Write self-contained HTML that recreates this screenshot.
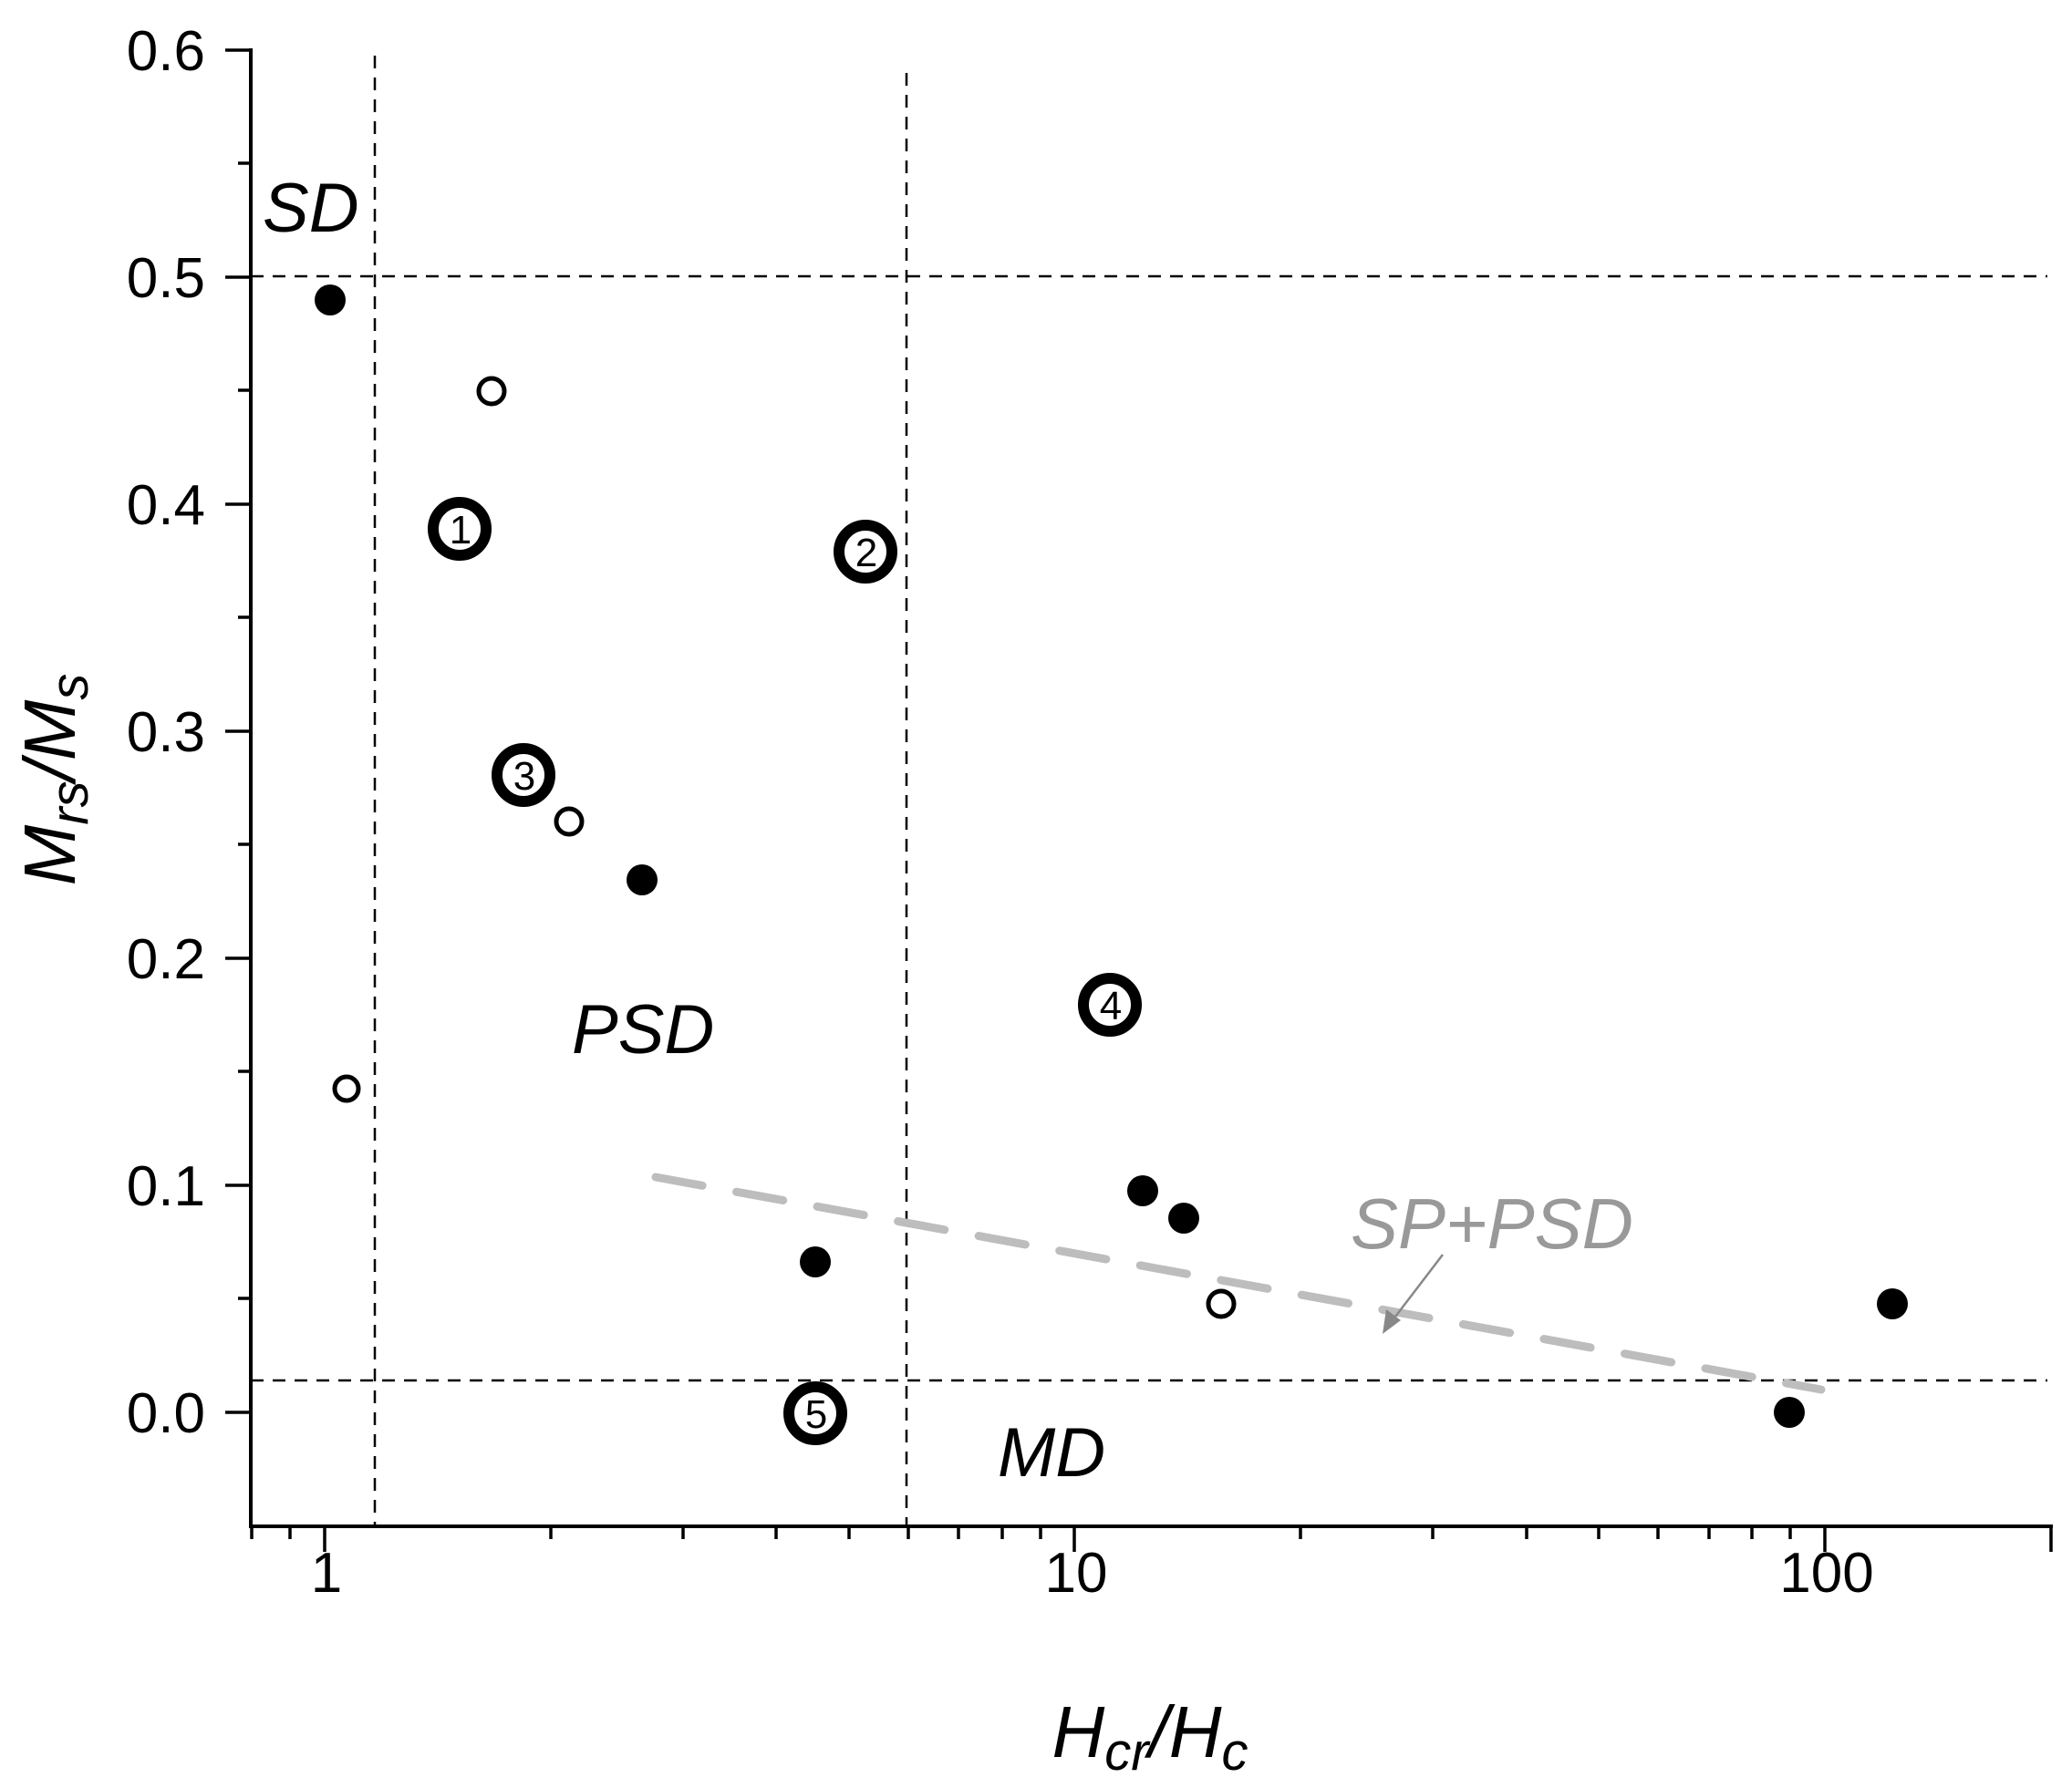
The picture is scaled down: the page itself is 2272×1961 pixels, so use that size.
<!DOCTYPE html>
<html><head><meta charset="utf-8"><style>html,body{margin:0;padding:0;background:#fff}</style></head>
<body>
<svg width="2272" height="1956" viewBox="0 0 2272 1956" xmlns="http://www.w3.org/2000/svg" font-family="Liberation Sans, Arial, sans-serif">
<rect width="2272" height="1956" fill="#fff"/>
<g stroke="#000" stroke-width="2.5" stroke-dasharray="14,10" fill="none">
<line x1="411" y1="61" x2="411" y2="1674"/>
<line x1="994" y1="80" x2="994" y2="1674"/>
<line x1="275" y1="303" x2="2245" y2="303"/>
<line x1="275" y1="1514" x2="2245" y2="1514"/>
</g>
<line x1="719" y1="1291" x2="1997" y2="1524" stroke="#bdbdbd" stroke-width="9" stroke-dasharray="52,38" stroke-linecap="round"/>
<g stroke="#000" stroke-width="4" fill="none">
<line x1="275" y1="53" x2="275" y2="1676"/>
<line x1="273" y1="1674" x2="2251" y2="1674"/>
</g>
<g stroke="#000" stroke-width="3.5">
<line x1="247" y1="55" x2="275" y2="55"/>
<line x1="247" y1="304" x2="275" y2="304"/>
<line x1="247" y1="553" x2="275" y2="553"/>
<line x1="247" y1="802" x2="275" y2="802"/>
<line x1="247" y1="1051" x2="275" y2="1051"/>
<line x1="247" y1="1300" x2="275" y2="1300"/>
<line x1="247" y1="1549" x2="275" y2="1549"/>
<line x1="261" y1="179" x2="275" y2="179"/>
<line x1="261" y1="428" x2="275" y2="428"/>
<line x1="261" y1="677" x2="275" y2="677"/>
<line x1="261" y1="926" x2="275" y2="926"/>
<line x1="261" y1="1175" x2="275" y2="1175"/>
<line x1="261" y1="1424" x2="275" y2="1424"/>
<line x1="356" y1="1674" x2="356" y2="1702"/>
<line x1="1178" y1="1674" x2="1178" y2="1702"/>
<line x1="2001" y1="1674" x2="2001" y2="1702"/>
<line x1="2249" y1="1674" x2="2249" y2="1702"/>
<line x1="276" y1="1674" x2="276" y2="1688"/>
<line x1="318" y1="1674" x2="318" y2="1688"/>
<line x1="604" y1="1674" x2="604" y2="1688"/>
<line x1="749" y1="1674" x2="749" y2="1688"/>
<line x1="851" y1="1674" x2="851" y2="1688"/>
<line x1="931" y1="1674" x2="931" y2="1688"/>
<line x1="996" y1="1674" x2="996" y2="1688"/>
<line x1="1051" y1="1674" x2="1051" y2="1688"/>
<line x1="1099" y1="1674" x2="1099" y2="1688"/>
<line x1="1141" y1="1674" x2="1141" y2="1688"/>
<line x1="1426" y1="1674" x2="1426" y2="1688"/>
<line x1="1571" y1="1674" x2="1571" y2="1688"/>
<line x1="1674" y1="1674" x2="1674" y2="1688"/>
<line x1="1753" y1="1674" x2="1753" y2="1688"/>
<line x1="1818" y1="1674" x2="1818" y2="1688"/>
<line x1="1874" y1="1674" x2="1874" y2="1688"/>
<line x1="1921" y1="1674" x2="1921" y2="1688"/>
<line x1="1963" y1="1674" x2="1963" y2="1688"/>
</g>
<g font-size="62" fill="#000" text-anchor="end">
<text x="225" y="77">0.6</text>
<text x="225" y="326">0.5</text>
<text x="225" y="575">0.4</text>
<text x="225" y="824">0.3</text>
<text x="225" y="1073">0.2</text>
<text x="225" y="1322">0.1</text>
<text x="225" y="1571">0.0</text>
</g>
<g font-size="62" fill="#000" text-anchor="middle">
<text x="358" y="1746">1</text>
<text x="1180" y="1746">10</text>
<text x="2003" y="1746">100</text>
</g>
<text x="1261" y="1927" font-size="80" font-style="italic" text-anchor="middle">H<tspan font-size="58" dy="14">cr</tspan><tspan dy="-14">/H</tspan><tspan font-size="58" dy="14">c</tspan></text>
<text transform="translate(82,855) rotate(-90)" font-size="80" font-style="italic" text-anchor="middle">M<tspan font-size="58" dy="14">rs</tspan><tspan dy="-14">/M</tspan><tspan font-size="58" dy="14">s</tspan></text>
<g font-size="76" font-style="italic" fill="#000">
<text x="288" y="254">SD</text>
<text x="627" y="1155">PSD</text>
<text x="1094" y="1619">MD</text>
</g>
<text x="1481" y="1369" font-size="78" font-style="italic" fill="#999">SP+PSD</text>
<line x1="1582" y1="1376" x2="1527" y2="1448" stroke="#888" stroke-width="2.5"/>
<polygon points="1516,1463 1520,1436 1536,1448" fill="#888"/>
<g fill="#000">
<circle cx="362" cy="329" r="17"/>
<circle cx="704" cy="965" r="17"/>
<circle cx="1253" cy="1306" r="17"/>
<circle cx="1298" cy="1336" r="17"/>
<circle cx="894" cy="1384" r="17"/>
<circle cx="1962" cy="1549" r="17"/>
<circle cx="2075" cy="1430" r="17"/>
</g>
<g fill="#fff" stroke="#000" stroke-width="5">
<circle cx="539" cy="429" r="14"/>
<circle cx="624" cy="901" r="14"/>
<circle cx="380" cy="1194" r="13"/>
<circle cx="1339" cy="1430" r="14"/>
</g>
<g fill="#fff" stroke="#000" stroke-width="12">
<circle cx="504" cy="580" r="29"/>
<circle cx="949" cy="605" r="29"/>
<circle cx="574" cy="850" r="29"/>
<circle cx="1217" cy="1102" r="29"/>
<circle cx="894" cy="1550" r="29"/>
</g>
<g font-size="44" text-anchor="middle" fill="#000">
<text x="505" y="596">1</text>
<text x="950" y="621">2</text>
<text x="575" y="866">3</text>
<text x="1218" y="1118">4</text>
<text x="895" y="1566">5</text>
</g>
</svg>
</body></html>
